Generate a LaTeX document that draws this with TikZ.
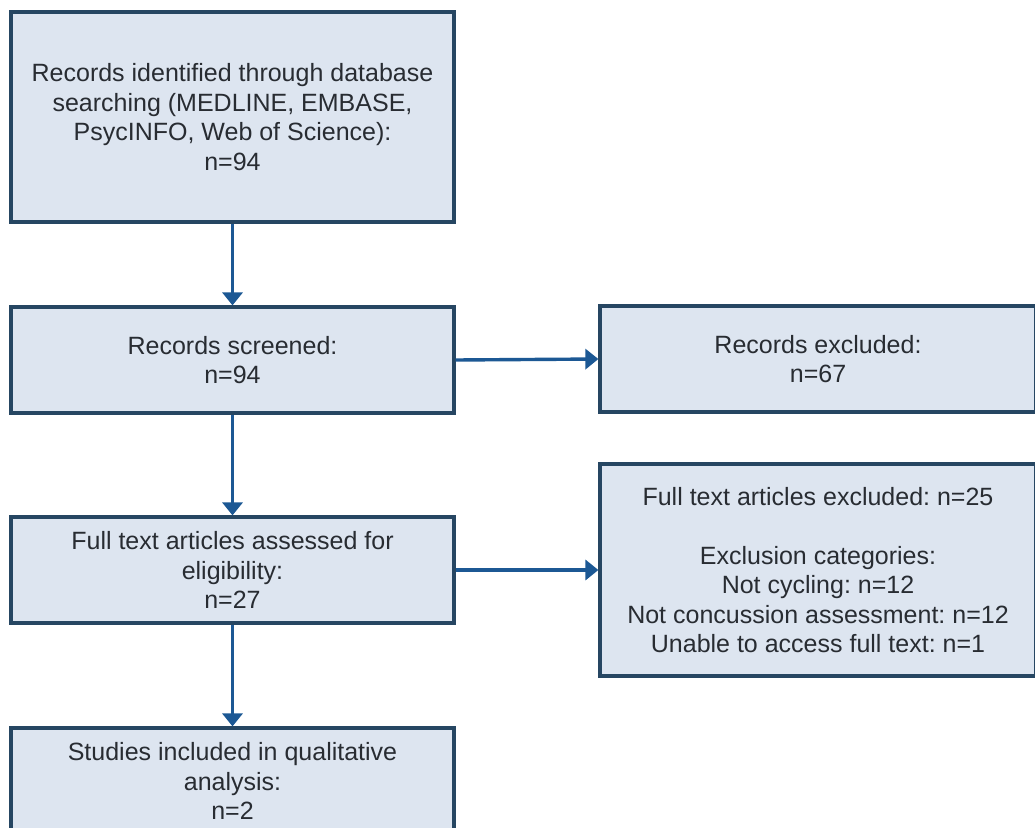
\documentclass[tikz,border=0pt]{standalone}
\usepackage{fontspec}
\setmainfont{Liberation Sans}
\usetikzlibrary{arrows.meta}
\definecolor{boxfill}{RGB}{221,229,240}
\definecolor{boxdraw}{RGB}{38,70,98}
\definecolor{arrowcol}{RGB}{28,88,148}
\definecolor{txtcol}{RGB}{40,44,50}
\tikzset{
  flowbox/.style={draw=boxdraw, fill=boxfill, line width=3.2pt, rectangle,
    align=center, text=txtcol, inner sep=0pt,
    font=\frenchspacing\fontsize{25}{29.5}\selectfont},
  flowarrow/.style={draw=arrowcol, line width=3.4pt,
    -{Triangle[width=20pt,length=13pt]}}
}
\begin{document}
\begin{tikzpicture}[x=1pt,y=-1pt]
\clip (0,0) rectangle (1035,827);
\fill[white] (0,0) rectangle (1035,827);

\node[flowbox, minimum width=443pt, minimum height=210pt] (ident) at (232.5,117)
  {Records identified through database\\searching (MEDLINE, EMBASE,\\PsycINFO, Web of Science):\\n=94};
\node[flowbox, minimum width=443pt, minimum height=106pt] (screen) at (232.5,360)
  {Records screened:\\n=94};
\node[flowbox, minimum width=443pt, minimum height=106pt] (full) at (232.5,570)
  {Full text articles assessed for\\eligibility:\\n=27};
\node[flowbox, minimum width=443pt, minimum height=106pt] (incl) at (232.5,781)
  {Studies included in qualitative\\analysis:\\n=2};

\node[flowbox, minimum width=436pt, minimum height=106pt] (recex) at (818,359)
  {Records excluded:\\n=67};
\node[flowbox, minimum width=436pt, minimum height=212pt] (excl) at (818,570)
  {Full text articles excluded: n=25\\[29.5pt]Exclusion categories:\\Not cycling: n=12\\Not concussion assessment: n=12\\Unable to access full text: n=1};

\draw[flowarrow] (ident.south) -- (screen.north);
\draw[flowarrow] (screen.south) -- (full.north);
\draw[flowarrow] (full.south) -- (incl.north);
\draw[flowarrow] (screen.east) -- (recex.west);
\draw[flowarrow] (full.east) -- (excl.west);
\end{tikzpicture}
\end{document}
